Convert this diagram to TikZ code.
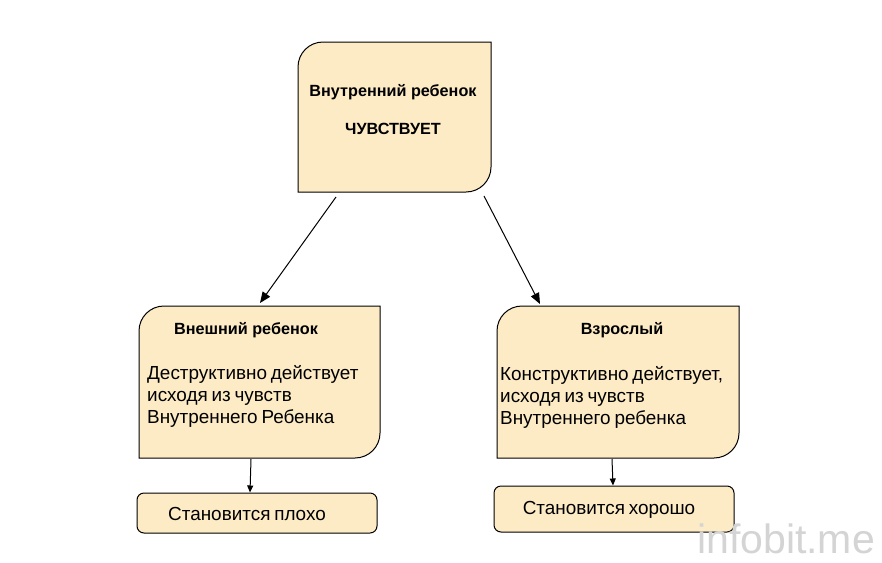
\documentclass[tikz,border=0pt]{standalone}
\usepackage{fontspec}
\setmainfont{Liberation Sans}
\newfontfamily\bodyfam[WordSpace=0.72]{Liberation Sans}
\usetikzlibrary{arrows.meta,calc}
\definecolor{boxfill}{RGB}{252,235,197}
\definecolor{wmgray}{RGB}{212,212,212}
\tikzset{
  boxline/.style={draw=black,line width=1pt,fill=boxfill},
  titletext/.style={font=\bfseries\fontsize{16.2}{18}\selectfont,inner sep=0pt},
  bodytext/.style={font=\bodyfam\fontsize{18.9}{22}\selectfont,inner sep=0pt,align=left},
  area/.style={rectangle,draw=none,inner sep=0pt},
  bigarrow/.style={draw=black,line width=1pt,-{Triangle[length=11pt,width=9pt]}},
  smallarrow/.style={draw=black,line width=1pt,-{Triangle[length=7pt,width=6pt]}},
}
\begin{document}
\begin{tikzpicture}[x=1pt,y=-1pt]
\useasboundingbox (0,0) rectangle (882,562);
\fill[white] (0,0) rectangle (882,562);

% top box
\path[boxline] (298,67) arc[start angle=180,end angle=270,radius=25] -- (491,42) -- (491,167)
  arc[start angle=0,end angle=90,radius=25] -- (298,192) -- cycle;
\node[area,minimum width=193,minimum height=150] (top) at (394.5,117) {};
\node[titletext] (toptitle) at (393,92) {Внутренний ребенок};
\node[titletext] (topsub) at (393,129) {ЧУВСТВУЕТ};

% left middle box
\path[boxline] (139,331) arc[start angle=180,end angle=270,radius=25] -- (380,306) -- (380,433)
  arc[start angle=0,end angle=90,radius=25] -- (139,458) -- cycle;
\node[area,minimum width=241,minimum height=152] (left) at (259.5,382) {};
\node[titletext] (lefttitle) at (246,330) {Внешний ребенок};
\node[bodytext,anchor=north west] (leftbody) at (147,365) {Деструктивно действует\\исходя из чувств\\Внутреннего Ребенка};

% right middle box
\path[boxline] (497,331) arc[start angle=180,end angle=270,radius=25] -- (739,306) -- (739,433)
  arc[start angle=0,end angle=90,radius=25] -- (497,458) -- cycle;
\node[area,minimum width=242,minimum height=152] (right) at (618,382) {};
\node[titletext] (righttitle) at (622,330) {Взрослый};
\node[bodytext,anchor=north west] (rightbody) at (500,366) {Конструктивно действует,\\исходя из чувств\\Внутреннего ребенка};

% bottom boxes
\node[boxline,rectangle,rounded corners=7pt,minimum width=240,minimum height=40,inner sep=0pt] (bad) at (257,513) {};
\node[bodytext] (badtext) at (247,514) {Становится плохо};
\node[boxline,rectangle,rounded corners=7pt,minimum width=240,minimum height=46,inner sep=0pt] (good) at (614,509) {};
\node[bodytext] (goodtext) at (609,510) {Становится хорошо};

% connectors
\coordinate (a1s) at (336,197);
\coordinate (a1e) at (260,303);
\coordinate (a2s) at (484,196);
\coordinate (a2e) at (540,304);
\draw[bigarrow] (a1s) -- (a1e);
\draw[bigarrow] (a2s) -- (a2e);
\draw[smallarrow] (251,459) -- (bad.north -| 250,0);
\draw[smallarrow] (612,459) -- (good.north -| 613,0);

% watermark
\node[font=\fontsize{41}{41}\selectfont,text=wmgray,inner sep=0pt] (wm) at (786,539) {infobit.me};
\end{tikzpicture}
\end{document}
